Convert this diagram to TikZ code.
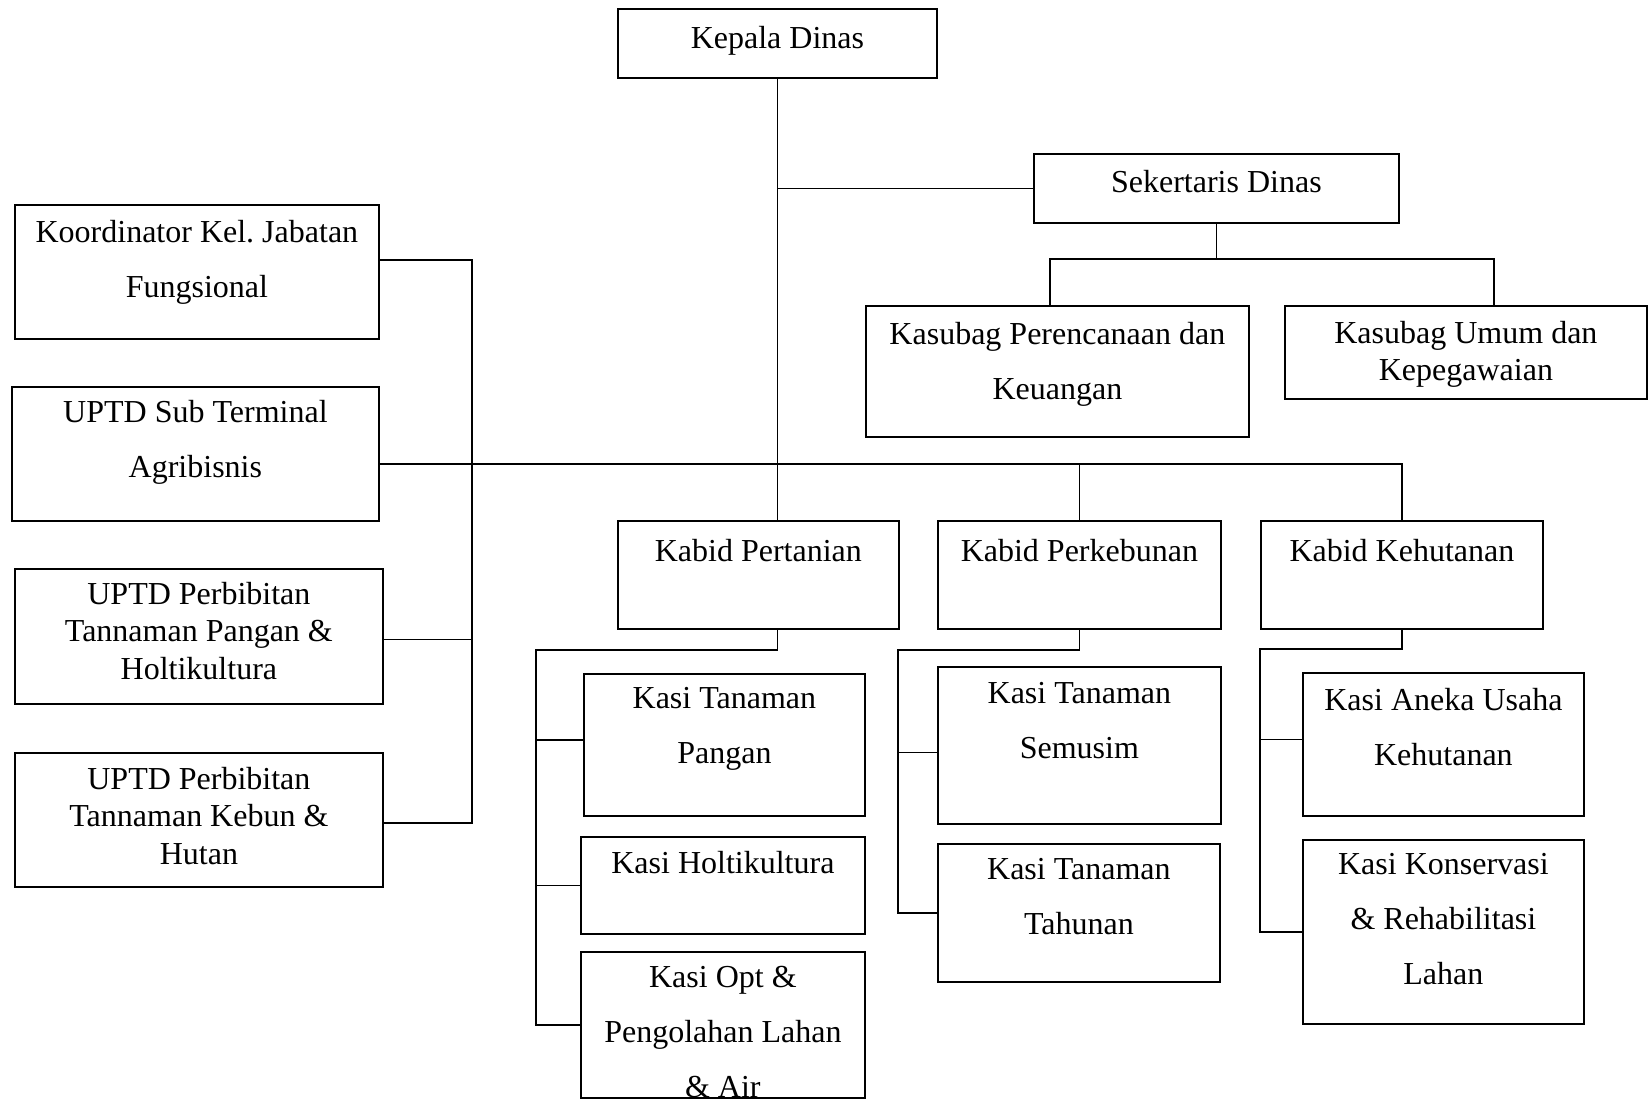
\documentclass[tikz,border=0pt]{standalone}
\usepackage{fontspec}
\setmainfont{Liberation Serif}
\frenchspacing
\usetikzlibrary{positioning}

\tikzset{
  box/.style={draw, line width=1.8pt, anchor=north west, inner sep=0pt},
  lbl/.style={inner sep=0pt, align=center, font=\fontsize{32}{55}\selectfont,
    execute at begin node=\rule{0pt}{24pt}},
  lbls/.style={lbl, font=\fontsize{32}{37.5}\selectfont},
  link/.style={line width=1.8pt},
}

\begin{document}
\begin{tikzpicture}[x=1pt, y=-1pt]
    \useasboundingbox (0,0) rectangle (1648,1101);

    % boxes
    \node[box, minimum width=319, minimum height=69]  (kepala)      at (617,8)    {};
    \node[box, minimum width=365, minimum height=69]  (sekretaris)  at (1033,153) {};
    \node[box, minimum width=383, minimum height=131] (perencanaan) at (865,305)  {};
    \node[box, minimum width=362, minimum height=93]  (umum)        at (1284,305) {};

    \node[box, minimum width=364, minimum height=134] (koord)   at (14,204) {};
    \node[box, minimum width=367, minimum height=134] (upsub)   at (11,386) {};
    \node[box, minimum width=368, minimum height=135] (upangan) at (14,568) {};
    \node[box, minimum width=368, minimum height=134] (ukebun)  at (14,752) {};

    \node[box, minimum width=281, minimum height=108] (pertanian)  at (617,520)  {};
    \node[box, minimum width=283, minimum height=108] (perkebunan) at (937,520)  {};
    \node[box, minimum width=282, minimum height=108] (kehutanan)  at (1260,520) {};

    \node[box, minimum width=281, minimum height=142] (kpangan)     at (583,673)  {};
    \node[box, minimum width=284, minimum height=97]  (kholti)      at (580,836)  {};
    \node[box, minimum width=284, minimum height=146] (kopt)        at (580,951)  {};
    \node[box, minimum width=283, minimum height=157] (ksemusim)    at (937,666)  {};
    \node[box, minimum width=282, minimum height=138] (ktahunan)    at (937,843)  {};
    \node[box, minimum width=281, minimum height=143] (kaneka)      at (1302,672) {};
    \node[box, minimum width=281, minimum height=184] (kkonservasi) at (1302,839) {};

    % texts
    \node[lbl,  below=16pt of kepala.north]      (kepalaT)      {Kepala Dinas};
    \node[lbl,  below=15pt of sekretaris.north]  (sekretarisT)  {Sekertaris Dinas};
    \node[lbl,  below=17pt of perencanaan.north] (perencanaanT) {Kasubag Perencanaan dan\\Keuangan};
    \node[lbls, below=16pt of umum.north]        (umumT)        {Kasubag Umum dan\\Kepegawaian};

    \node[lbl,  below=16pt of koord.north]   (koordT)   {Koordinator Kel. Jabatan\\Fungsional};
    \node[lbl,  below=14pt of upsub.north]   (upsubT)   {UPTD Sub Terminal\\Agribisnis};
    \node[lbls, below=14pt of upangan.north] (upanganT) {UPTD Perbibitan\\Tannaman Pangan \&\\Holtikultura};
    \node[lbls, below=15pt of ukebun.north]  (ukebunT)  {UPTD Perbibitan\\Tannaman Kebun \&\\Hutan};

    \node[lbl, below=17pt of pertanian.north]  (pertanianT)  {Kabid Pertanian};
    \node[lbl, below=17pt of perkebunan.north] (perkebunanT) {Kabid Perkebunan};
    \node[lbl, below=17pt of kehutanan.north]  (kehutananT)  {Kabid Kehutanan};

    \node[lbl, below=14pt of kpangan.north]     (kpanganT)     {Kasi Tanaman\\Pangan};
    \node[lbl, below=13pt of kholti.north]      (kholtiT)      {Kasi Holtikultura};
    \node[lbl, below=15pt of kopt.north]        (koptT)        {Kasi Opt \&\\Pengolahan Lahan\\\& Air};
    \node[lbl, below=16pt of ksemusim.north]    (ksemusimT)    {Kasi Tanaman\\Semusim};
    \node[lbl, below=15pt of ktahunan.north]    (ktahunanT)    {Kasi Tanaman\\Tahunan};
    \node[lbl, below=16pt of kaneka.north]      (kanekaT)      {Kasi Aneka Usaha\\Kehutanan};
    \node[lbl, below=14pt of kkonservasi.north] (kkonservasiT) {Kasi Konservasi\\\& Rehabilitasi\\Lahan};

    % top part
    \draw[link] (kepala.south) -- (kepala.south |- pertanian.north);
    \draw[link] (kepala.south |- sekretaris.west) -- (sekretaris.west);
    \coordinate (sekL) at (1050,259);
    \coordinate (sekR) at (1494,259);
    \draw[link] (sekretaris.south) -- (sekretaris.south |- sekL);
    \draw[link] (sekL |- perencanaan.north) -- (sekL) -- (sekR) -- (sekR |- umum.north);

    % main bus
    \coordinate (bus) at (472,464);
    \draw[link] (upsub.east |- bus) -- (bus -| kehutanan.north) -- (kehutanan.north);
    \draw[link] (bus -| perkebunan.north) -- (perkebunan.north);

    % left group
    \coordinate (lbusT) at (472,260);
    \coordinate (lbusB) at (472,823);
    \draw[link] (koord.east |- lbusT) -- (lbusT) -- (lbusB) -- (ukebun.east |- lbusB);
    \draw[link] ([yshift=-3pt]upangan.east) -- ([yshift=-3pt]upangan.east -| lbusT);

    % pertanian
    \coordinate (taniL) at (536,650);
    \draw[link] (kepala.south |- pertanian.south) -- (kepala.south |- taniL) -- (taniL)
        -- (taniL |- kopt.west) -- (kopt.west);
    \draw[link] ([yshift=5pt]kpangan.west -| taniL) -- ([yshift=5pt]kpangan.west);
    \draw[link] (taniL |- kholti.west) -- (kholti.west);

    % perkebunan
    \coordinate (kebunL) at (898,650);
    \draw[link] (perkebunan.south) -- (perkebunan.south |- kebunL) -- (kebunL)
        -- (kebunL |- ktahunan.west) -- (ktahunan.west);
    \draw[link] ([yshift=-7pt]ksemusim.west -| kebunL) -- ([yshift=-7pt]ksemusim.west);

    % kehutanan
    \coordinate (hutanL) at (1260,649);
    \draw[link] (kehutanan.south) -- (kehutanan.south |- hutanL) -- (hutanL)
        -- (hutanL |- kkonservasi.west) -- (kkonservasi.west);
    \draw[link] ([yshift=5pt]kaneka.west -| hutanL) -- ([yshift=5pt]kaneka.west);
\end{tikzpicture}
\end{document}
